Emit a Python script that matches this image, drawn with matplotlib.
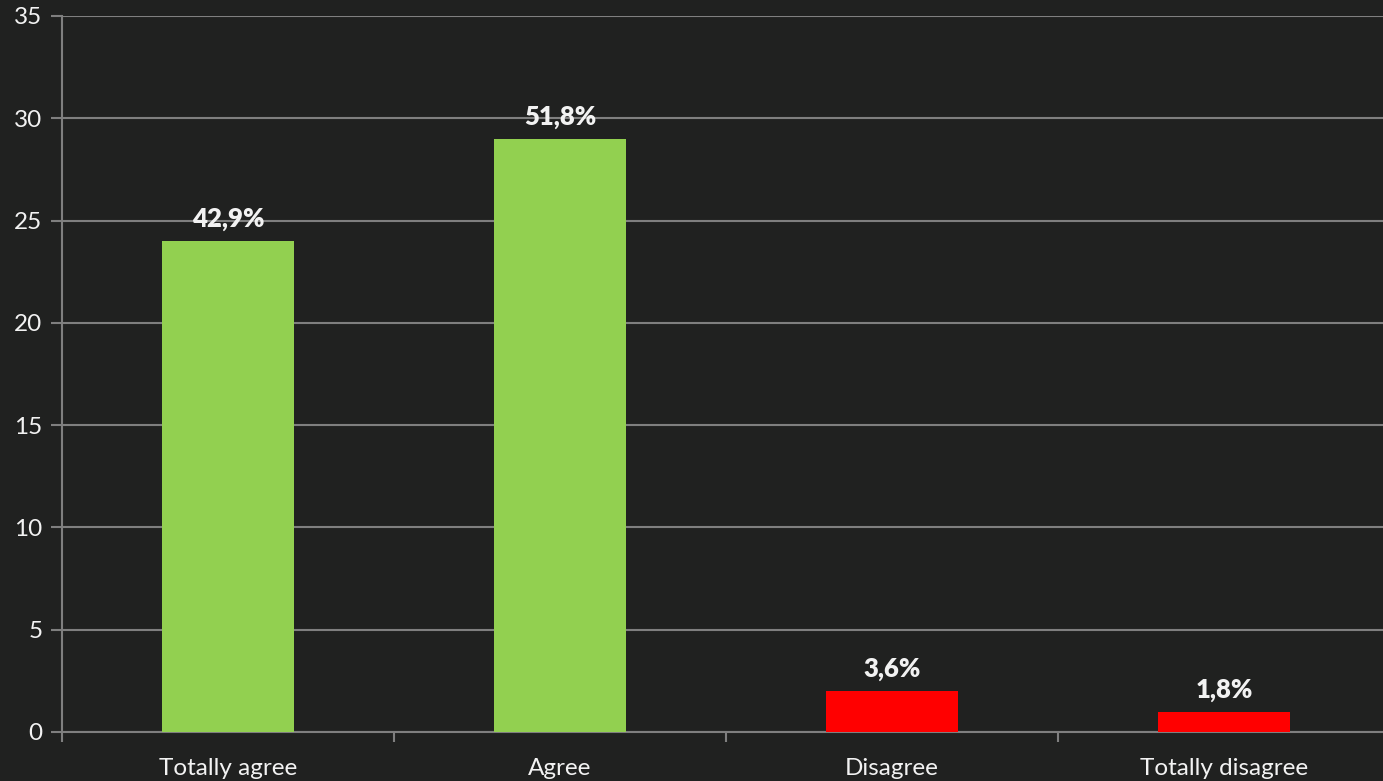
import matplotlib
matplotlib.use("Agg")
import matplotlib.pyplot as plt
import numpy as np

categories = ["Totally agree", "Agree", "Disagree", "Totally disagree"]
counts = [24, 29, 2, 1]
pct_labels = ["42,9%", "51,8%", "3,6%", "1,8%"]
bar_colors = ["#92D050", "#92D050", "#FF0000", "#FF0000"]

bg = "#202120"
grid = "#7f7f7f"
txt = "#f2f2f2"

plt.rcParams["font.family"] = ["Lato", "DejaVu Sans"]

fig = plt.figure(figsize=(13.83, 7.81), dpi=100, facecolor=bg)
ax = fig.add_axes([62 / 1383, 49 / 781, 1328 / 1383, (732 - 16) / 781])
ax.set_facecolor(bg)

x = np.arange(len(categories))
ax.bar(x, counts, width=0.4, color=bar_colors, zorder=3)

for xi, c, lab in zip(x, counts, pct_labels):
    ax.annotate(lab, (xi, c), xytext=(0, 7), textcoords="offset points",
                ha="center", va="bottom", color=txt, fontsize=18.5, fontweight="heavy")

ax.set_xlim(-0.5, 3.5)
ax.set_ylim(0, 35)
ax.set_yticks(range(0, 36, 5))
ax.yaxis.grid(True, color=grid, linewidth=1.5, zorder=0)
ax.set_axisbelow(True)

ax.set_xticks(x)
ax.set_xticklabels(categories)
ax.set_xticks(np.arange(-0.5, 3.6, 1), minor=True)
ax.tick_params(axis="x", which="major", length=0, pad=19, labelsize=17.5, labelcolor=txt)
ax.tick_params(axis="x", which="minor", length=7, width=1.5, color=grid, direction="out")
ax.tick_params(axis="y", length=8, width=1.5, color=grid, pad=6, labelsize=17.5, labelcolor=txt)

for s in ["top", "right"]:
    ax.spines[s].set_visible(False)
for s in ["left", "bottom"]:
    ax.spines[s].set_color(grid)
    ax.spines[s].set_linewidth(1.5)

fig.savefig("out.png", dpi=100, facecolor=bg)
